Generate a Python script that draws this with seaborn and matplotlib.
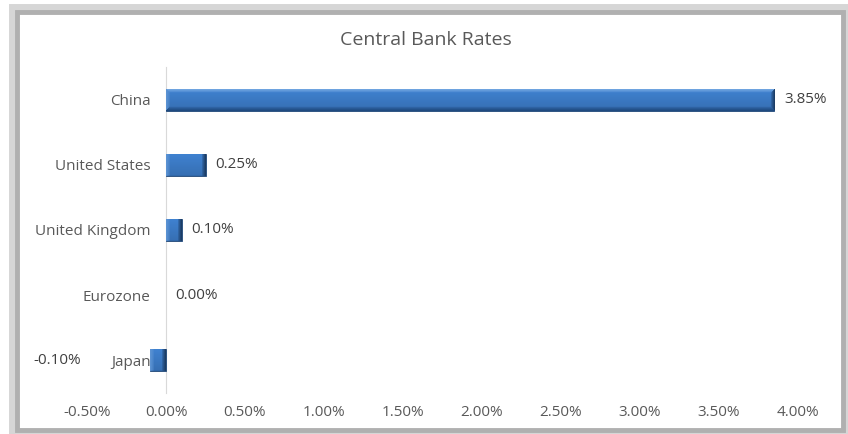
import numpy as np
import pandas as pd
import matplotlib
matplotlib.use("Agg")
import matplotlib.pyplot as plt
import seaborn as sns
from matplotlib.patches import Rectangle
from matplotlib.colors import to_rgb
from matplotlib.ticker import FuncFormatter, FixedLocator

# Policy rates by central bank (percent)
countries = ["China", "United States", "United Kingdom", "Eurozone", "Japan"]
rates = [3.85, 0.25, 0.10, 0.00, -0.10]
rate_labels = ["3.85%", "0.25%", "0.10%", "0.00%", "-0.10%"]
x_ticks = [-0.5, 0.0, 0.5, 1.0, 1.5, 2.0, 2.5, 3.0, 3.5, 4.0]
title = "Central Bank Rates"

df = pd.DataFrame({"country": countries, "rate": rates})

sns.set_theme(style="white")
plt.rcParams["font.family"] = ["Open Sans", "DejaVu Sans"]

TEXT = "#595959"
W, H = 848, 434
fig = plt.figure(figsize=(W / 100, H / 100), dpi=100)

# Chart frame with a soft grey border
fig.patches.append(Rectangle((12 / W, 1 - 433 / H), 835 / W, 426 / H, transform=fig.transFigure,
                             facecolor="none", edgecolor="#D6D6D6", linewidth=5, zorder=0))
fig.patches.append(Rectangle((17 / W, 1 - 430 / H), 826 / W, 418 / H, transform=fig.transFigure,
                             facecolor="white", edgecolor="#B0B0B0", linewidth=3.5, zorder=0))

ax = fig.add_axes([87 / W, 1 - 393 / H, (798 - 87) / W, (393 - 67) / H])
ax.set_zorder(2)
ax.set_facecolor("none")

sns.barplot(data=df, x="rate", y="country", orient="h", color="#3C7BC6",
            saturation=1, width=0.34, edgecolor="#1F4573", linewidth=0.6, ax=ax, zorder=3)

ax.set_xlim(x_ticks[0], x_ticks[-1])
ax.xaxis.set_major_locator(FixedLocator(x_ticks))
ax.xaxis.set_major_formatter(FuncFormatter(lambda v, _: f"{v:.2f}%"))
ax.set_xlabel("")
ax.set_ylabel("")

for side in ("top", "right", "bottom"):
    ax.spines[side].set_visible(False)
ax.spines["left"].set_position(("data", 0))
ax.spines["left"].set_color("#D9D9D9")
ax.spines["left"].set_linewidth(0.8)
ax.tick_params(axis="both", length=0, colors=TEXT, labelsize=11)
ax.tick_params(axis="x", pad=9)
ax.tick_params(axis="y", pad=11)


def bevel_image(wpx, hpx, bev=4):
    base = np.array(to_rgb("#3C7BC6"))
    top = np.array(to_rgb("#7AACE3"))
    bottom = np.array(to_rgb("#1F4A80"))
    right = np.array(to_rgb("#1C3D66"))
    left = np.array(to_rgb("#5C93D3"))
    yy, xx = np.mgrid[0:hpx, 0:wpx]
    img = np.empty((hpx, wpx, 3))
    # gentle vertical shading inside the bar
    shade = 1.06 - 0.16 * (yy / max(hpx - 1, 1))
    img[:] = np.clip(base * shade[..., None], 0, 1)
    dists = np.stack([yy, hpx - 1 - yy, xx, wpx - 1 - xx])
    cols = [top, bottom, left, right]
    nearest = dists.argmin(axis=0)
    dmin = dists.min(axis=0)
    t = np.clip(1 - dmin / bev, 0, 1) ** 0.8
    for k, c in enumerate(cols):
        m = (nearest == k) & (t > 0)
        img[m] = img[m] * (1 - t[m, None]) + c * t[m, None]
    return img


fig.canvas.draw()
for patch in list(ax.patches):
    bb = patch.get_bbox()
    x0, x1 = sorted([bb.x0, bb.x1])
    y0, y1 = sorted([bb.y0, bb.y1])
    if x1 - x0 <= 0:
        # zero-valued bar: nothing to draw
        patch.set_linewidth(0)
        continue
    p0 = ax.transData.transform((x0, y0))
    p1 = ax.transData.transform((x1, y1))
    wpx = max(int(round(abs(p1[0] - p0[0]))), 2)
    hpx = max(int(round(abs(p1[1] - p0[1]))), 2)
    im = ax.imshow(bevel_image(wpx, hpx), extent=(x0, x1, y1, y0), origin="upper",
                   aspect="auto", interpolation="bilinear", zorder=4)
    im.set_clip_path(patch)
ax.set_xlim(x_ticks[0], x_ticks[-1])
ax.set_ylim(len(countries) - 0.5, -0.5)

# Value labels beside each bar end
for i, (v, txt) in enumerate(zip(rates, rate_labels)):
    if v >= 0:
        ax.annotate(txt, xy=(v, i), xytext=(7, 0), textcoords="offset points",
                    ha="left", va="center", fontsize=11, color="#404040", zorder=5)
    else:
        ax.annotate(txt, xy=(v, i), xytext=(-50, 0), textcoords="offset points",
                    ha="right", va="center", fontsize=11, color="#404040", zorder=5,
                    annotation_clip=False)

fig.text(426 / W, 1 - 40 / H, title, ha="center", va="center", fontsize=14, color=TEXT)

fig.savefig("out.png", dpi=100, facecolor="white")
